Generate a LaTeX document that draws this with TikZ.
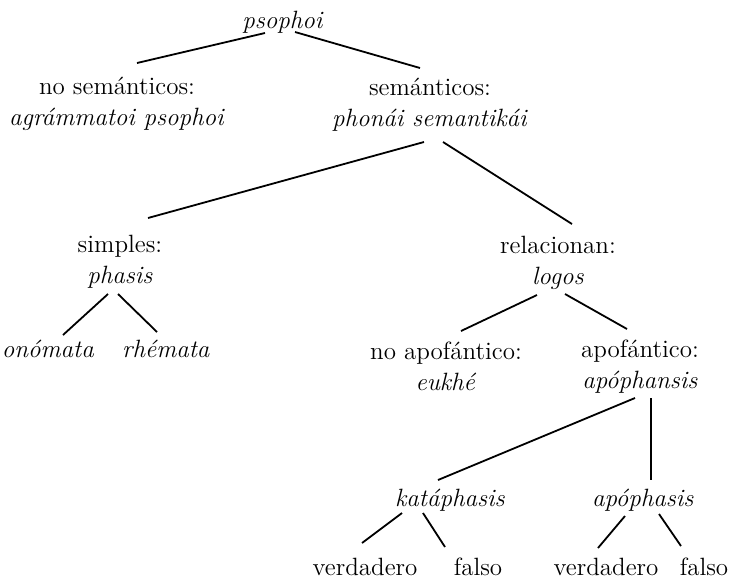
\documentclass[tikz,border=0pt]{standalone}
\usepackage{fontspec}
\tikzset{
  lbl/.style={font=\fontsize{12.5}{15.5}\selectfont, align=center, inner sep=0pt},
  branch/.style={line width=0.9pt}
}
\begin{document}
\begin{tikzpicture}[x=0.5pt,y=-0.5pt]
  \useasboundingbox (0,0) rectangle (740,580);
  % nodes of the tree
  \node[lbl] (psophoi) at (283,22) {\textit{psophoi}};
  \node[lbl] (nosem) at (117,104) {no semánticos:\\\textit{agrámmatoi psophoi}};
  \node[lbl] (sem) at (430,105) {semánticos:\\\textit{phonái semantikái}};
  \node[lbl] (simples) at (120,262) {simples:\\\textit{phasis}};
  \node[lbl] (relac) at (558,263) {relacionan:\\\textit{logos}};
  \node[lbl] (onomata) at (48,349) {\textit{onómata}};
  \node[lbl] (rhemata) at (166,349) {\textit{rhémata}};
  \node[lbl] (noapo) at (446,366) {no apofántico:\\\textit{eukhé}};
  \node[lbl] (apo) at (640,367) {apofántico:\\\textit{apóphansis}};
  \node[lbl] (kata) at (450,500) {\textit{katáphasis}};
  \node[lbl] (apoph) at (643,500) {\textit{apóphasis}};
  \node[lbl] (verd1) at (365,567) {verdadero};
  \node[lbl] (fals1) at (478,567) {falso};
  \node[lbl] (verd2) at (606,567) {verdadero};
  \node[lbl] (fals2) at (704,567) {falso};
  % branches
  \draw[branch] ([shift={(-18,11)}]psophoi.center) -- ([shift={(20,-41)}]nosem.center);
  \draw[branch] ([shift={(12,10)}]psophoi.center) -- ([shift={(-10,-37)}]sem.center);
  \draw[branch] ([shift={(-6,37)}]sem.center) -- ([shift={(28,-44)}]simples.center);
  \draw[branch] ([shift={(13,37)}]sem.center) -- ([shift={(14,-39)}]relac.center);
  \draw[branch] ([shift={(-12,32)}]simples.center) -- ([shift={(15,-14)}]onomata.center);
  \draw[branch] ([shift={(-2,32)}]simples.center) -- ([shift={(-9,-17)}]rhemata.center);
  \draw[branch] ([shift={(-21,32)}]relac.center) -- ([shift={(15,-35)}]noapo.center);
  \draw[branch] ([shift={(7,31)}]relac.center) -- ([shift={(-13,-38)}]apo.center);
  \draw[branch] ([shift={(-5,31)}]apo.center) -- ([shift={(-12,-20)}]kata.center);
  \draw[branch] ([shift={(11,31)}]apo.center) -- ([shift={(8,-20)}]apoph.center);
  \draw[branch] ([shift={(-48,13)}]kata.center) -- ([shift={(-3,-24)}]verd1.center);
  \draw[branch] ([shift={(-27,13)}]kata.center) -- ([shift={(-33,-20)}]fals1.center);
  \draw[branch] ([shift={(-18,16)}]apoph.center) -- ([shift={(-8,-19)}]verd2.center);
  \draw[branch] ([shift={(16,14)}]apoph.center) -- ([shift={(-23,-21)}]fals2.center);
\end{tikzpicture}
\end{document}
